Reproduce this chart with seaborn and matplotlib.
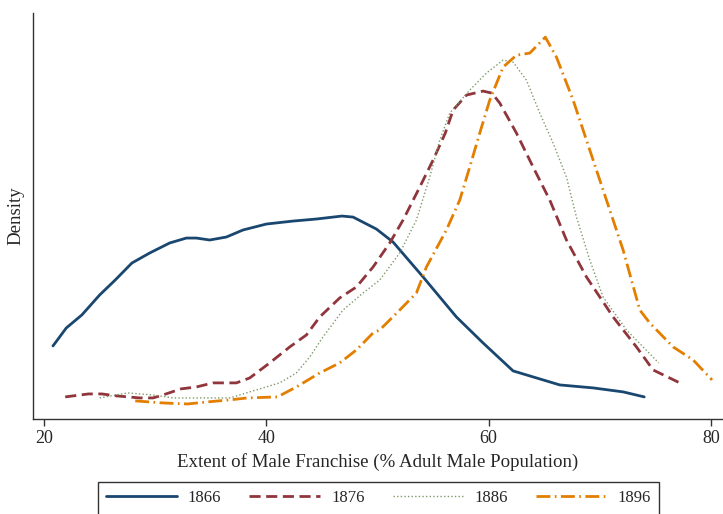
import numpy as np
import pandas as pd
import seaborn as sns
import matplotlib
matplotlib.use("Agg")
import matplotlib.pyplot as plt

# ---- data ----
x_1866 = [20.8, 22.0, 23.4, 25.0, 26.4, 27.9, 29.5, 31.3, 32.8, 33.7, 34.9, 36.4, 37.9,
          40.0, 42.4, 44.5, 46.8, 47.8, 49.9, 51.4, 54.1, 57.1, 59.5, 62.2, 66.4, 69.4, 72.1, 74.0]
d_1866 = [0.00859, 0.01071, 0.01224, 0.01459, 0.01635, 0.01835, 0.01953, 0.02071, 0.02129,
          0.02129, 0.02106, 0.02141, 0.02224, 0.02294, 0.02329, 0.02353, 0.02388, 0.02376,
          0.02235, 0.02082, 0.01671, 0.01200, 0.00894, 0.00565, 0.00400, 0.00365, 0.00318, 0.00259]

x_1876 = [21.9, 24.0, 25.2, 26.5, 28.6, 29.8, 30.7, 32.3, 33.7, 35.2, 37.3, 38.5, 40.3, 42.1,
          43.6, 44.8, 46.6, 48.1, 49.6, 51.1, 52.3, 53.8, 55.0, 56.1, 56.8, 58.0, 59.5, 60.3,
          61.0, 62.5, 64.0, 65.5, 67.0, 68.8, 71.2, 73.3, 74.8, 77.2]
d_1876 = [0.00259, 0.00294, 0.00294, 0.00271, 0.00247, 0.00247, 0.00282, 0.00353, 0.00376,
          0.00424, 0.00424, 0.00482, 0.00659, 0.00847, 0.00988, 0.01200, 0.01424, 0.01553,
          0.01788, 0.02071, 0.02341, 0.02729, 0.03047, 0.03365, 0.03635, 0.03812, 0.03859,
          0.03835, 0.03718, 0.03365, 0.02965, 0.02576, 0.02106, 0.01671, 0.01200, 0.00847,
          0.00576, 0.00424]

x_1886 = [25.0, 27.5, 29.8, 31.6, 33.7, 36.7, 38.5, 41.2, 42.7, 43.9, 45.1, 46.9, 48.7, 50.2,
          52.0, 53.5, 54.7, 55.6, 56.5, 58.3, 59.8, 61.3, 62.2, 63.4, 64.6, 65.8, 67.0, 67.9,
          69.1, 70.3, 72.4, 73.9, 75.3]
d_1886 = [0.00247, 0.00306, 0.00282, 0.00247, 0.00247, 0.00247, 0.00318, 0.00424, 0.00541,
          0.00729, 0.00965, 0.01282, 0.01482, 0.01635, 0.01953, 0.02341, 0.02847, 0.03282,
          0.03600, 0.03871, 0.04071, 0.04224, 0.04200, 0.03988, 0.03600, 0.03247, 0.02847,
          0.02376, 0.01871, 0.01435, 0.01047, 0.00847, 0.00659]

x_1896 = [28.2, 30.7, 32.9, 34.7, 36.7, 38.3, 41.0, 42.7, 44.8, 46.6, 48.1, 49.6, 50.2, 52.0,
          53.5, 54.4, 56.2, 57.4, 58.3, 59.2, 60.1, 61.3, 62.5, 63.7, 65.1, 66.1, 67.6, 69.1,
          70.6, 72.1, 73.6, 74.5, 76.6, 78.4, 80.1]
d_1896 = [0.00212, 0.00188, 0.00176, 0.00200, 0.00224, 0.00247, 0.00259, 0.00376, 0.00541,
          0.00659, 0.00812, 0.01012, 0.01047, 0.01282, 0.01482, 0.01788, 0.02224, 0.02576,
          0.02965, 0.03365, 0.03753, 0.04141, 0.04282, 0.04306, 0.04494, 0.04259, 0.03753,
          0.03165, 0.02576, 0.01988, 0.01282, 0.01129, 0.00847, 0.00694, 0.00459]

years = ["1866", "1876", "1886", "1896"]
x_ticks = [20, 40, 60, 80]
x_label = "Extent of Male Franchise (% Adult Male Population)"
y_label = "Density"

# ---- style ----
sns.set_style("white")
plt.rcParams['font.family'] = ['Liberation Serif', 'DejaVu Serif']

colors = ["#1a476f", "#90353b", "#7f9a68", "#e37e00"]
styles = ["-", (0, (4, 2)), (0, (1, 1.6)), (0, (5, 1.6, 0.6, 1.6))]
widths = [2.0, 2.0, 1.0, 2.0]

fig = plt.figure(figsize=(7.23, 5.14), dpi=100)
ax = fig.add_axes([0.0456, 0.185, 0.954, 0.790])

series = [(x_1866, d_1866), (x_1876, d_1876), (x_1886, d_1886), (x_1896, d_1896)]
for (xs, ds), yr, c, ls, lw in zip(series, years, colors, styles, widths):
    df = pd.DataFrame({"x": xs, "density": ds})
    sns.lineplot(data=df, x="x", y="density", ax=ax, color=c, linestyle=ls,
                 linewidth=lw, sort=False, label=yr)

ax.set_xlim(19.0, 81.06)
ax.set_ylim(0, 0.0478)
ax.set_xticks(x_ticks)
ax.set_xticklabels([str(t) for t in x_ticks], fontsize=13)
ax.set_yticks([])
ax.set_xlabel(x_label, fontsize=13.6, labelpad=4)
ax.set_ylabel(y_label, fontsize=13.6, labelpad=6)
for s in ["top", "right"]:
    ax.spines[s].set_visible(False)
for s in ["left", "bottom"]:
    ax.spines[s].set_color("#333333")
    ax.spines[s].set_linewidth(1.0)
ax.tick_params(axis="x", direction="out", length=5, width=1.0, color="#333333",
               bottom=True, pad=3)

h, l = ax.get_legend_handles_labels()
ax.get_legend().remove()
leg = fig.legend(h, l, loc="upper center", bbox_to_anchor=(0.5235, 0.0623), ncol=4,
                 frameon=True, fancybox=False, fontsize=12, handlelength=4.25,
                 columnspacing=1.68, handletextpad=0.66, borderpad=0.5,
                 borderaxespad=0)
leg.get_frame().set_edgecolor("black")
leg.get_frame().set_linewidth(1.0)

fig.savefig("out.png", dpi=100)
